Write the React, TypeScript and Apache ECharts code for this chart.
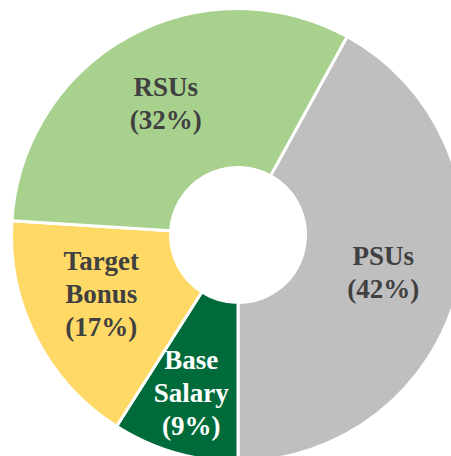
import React, { useEffect, useRef } from "react";
import * as echarts from "echarts";

const categories = ["PSUs", "Base Salary", "Target Bonus", "RSUs"];
const values = [42, 9, 17, 32];
const colors = ["#BFBFBF", "#006B3A", "#FFD966", "#A9D18E"];
const labelColors = ["#404040", "#FFFFFF", "#404040", "#404040"];
const labelOffsets: [number, number][] = [[0, 0], [-5, 14], [-3, -9], [0, 0]];

export default function App() {
  const ref = useRef<HTMLDivElement>(null);
  useEffect(() => {
    document.body.style.margin = "0";
    const chart = echarts.init(ref.current!, null, { renderer: "svg" });
    chart.setOption({
      animation: false,
      backgroundColor: "#FFFFFF",
      series: [
        {
          type: "pie",
          center: [238, 235],
          radius: [67.5, 226.5],
          startAngle: 61.2,
          clockwise: true,
          avoidLabelOverlap: false,
          silent: true,
          itemStyle: { borderColor: "#FFFFFF", borderWidth: 3 },
          label: {
            show: true,
            position: "inside",
            fontFamily: "Liberation Serif",
            fontWeight: "bold",
            fontSize: 27,
            lineHeight: 33,
            align: "center",
            formatter: (p: any) => p.name.replace(" ", "\n") + "\n(" + p.value + "%)",
          },
          labelLine: { show: false },
          emphasis: { disabled: true },
          data: categories.map((name, i) => ({
            name,
            value: values[i],
            itemStyle: { color: colors[i] },
            label: { color: labelColors[i], offset: labelOffsets[i] },
          })),
        },
      ],
    });
    return () => chart.dispose();
  }, []);
  return <div ref={ref} style={{ width: 451, height: 456 }} />;
}
